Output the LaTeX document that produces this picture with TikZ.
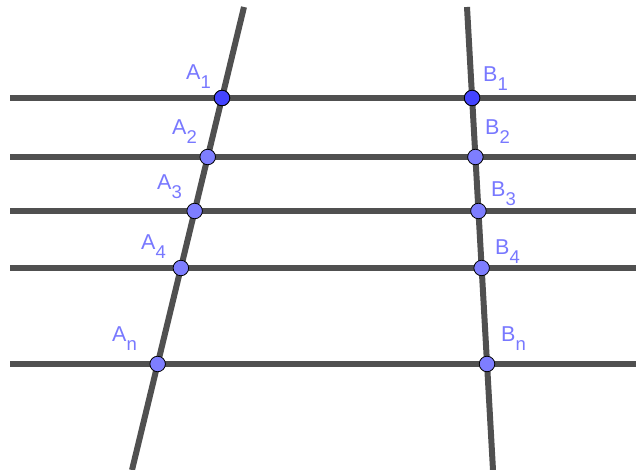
\documentclass[tikz,border=0pt]{standalone}
\usepackage{fontspec}
\setmainfont{Liberation Sans}
\definecolor{railgray}{RGB}{80,80,80}
\definecolor{ptdark}{RGB}{68,68,255}
\definecolor{ptlight}{RGB}{126,126,255}
\definecolor{lblblue}{RGB}{120,120,255}
\newcommand{\lsub}[1]{\raisebox{-8.5pt}{\fontsize{18.5}{21}\selectfont #1}}

\begin{document}
\begin{tikzpicture}[x=1pt,y=-1pt,line cap=butt,
  rail/.style={line width=6pt,draw=railgray},
  pt/.style={circle,draw=black,line width=0.8pt,inner sep=0pt,minimum size=15.5pt,fill=ptlight},
  lbl/.style={anchor=base west,inner sep=0pt,text=lblblue,font=\fontsize{21.5}{25}\selectfont}]
  \useasboundingbox (0,0) rectangle (638,470);
  % the two transversals
  \coordinate (ta) at (244,7);
  \coordinate (tb) at (132,470);
  \coordinate (sa) at (467,7);
  \coordinate (sb) at (493,470);
  \draw[rail] (ta) -- (tb);
  \draw[rail] (sa) -- (sb);
  % parallels
  \foreach \i/\y in {1/98,2/157,3/211,4/268,n/364} {
    \coordinate (L\i) at (10,\y);
    \coordinate (R\i) at (636,\y);
    \draw[rail] (L\i) -- (R\i);
  }
  % intersection points
  \foreach \i in {1,2,3,4,n} {
    \node[pt] (A\i) at (intersection of ta--tb and L\i--R\i) {};
    \node[pt] (B\i) at (intersection of sa--sb and L\i--R\i) {};
  }
  \node[pt,fill=ptdark] at (A1) {};
  \node[pt,fill=ptdark] at (B1) {};
  % labels
  \foreach \i/\ax/\ay/\bx/\by in {1/186/80/483/82,2/172/135/485/135,3/157/190/491/197,4/141/250/495/255,n/112/342/501/342} {
    \node[lbl] (lA\i) at (\ax,\ay) {A\lsub{\i}};
    \node[lbl] (lB\i) at (\bx,\by) {B\lsub{\i}};
  }
\end{tikzpicture}
\end{document}
